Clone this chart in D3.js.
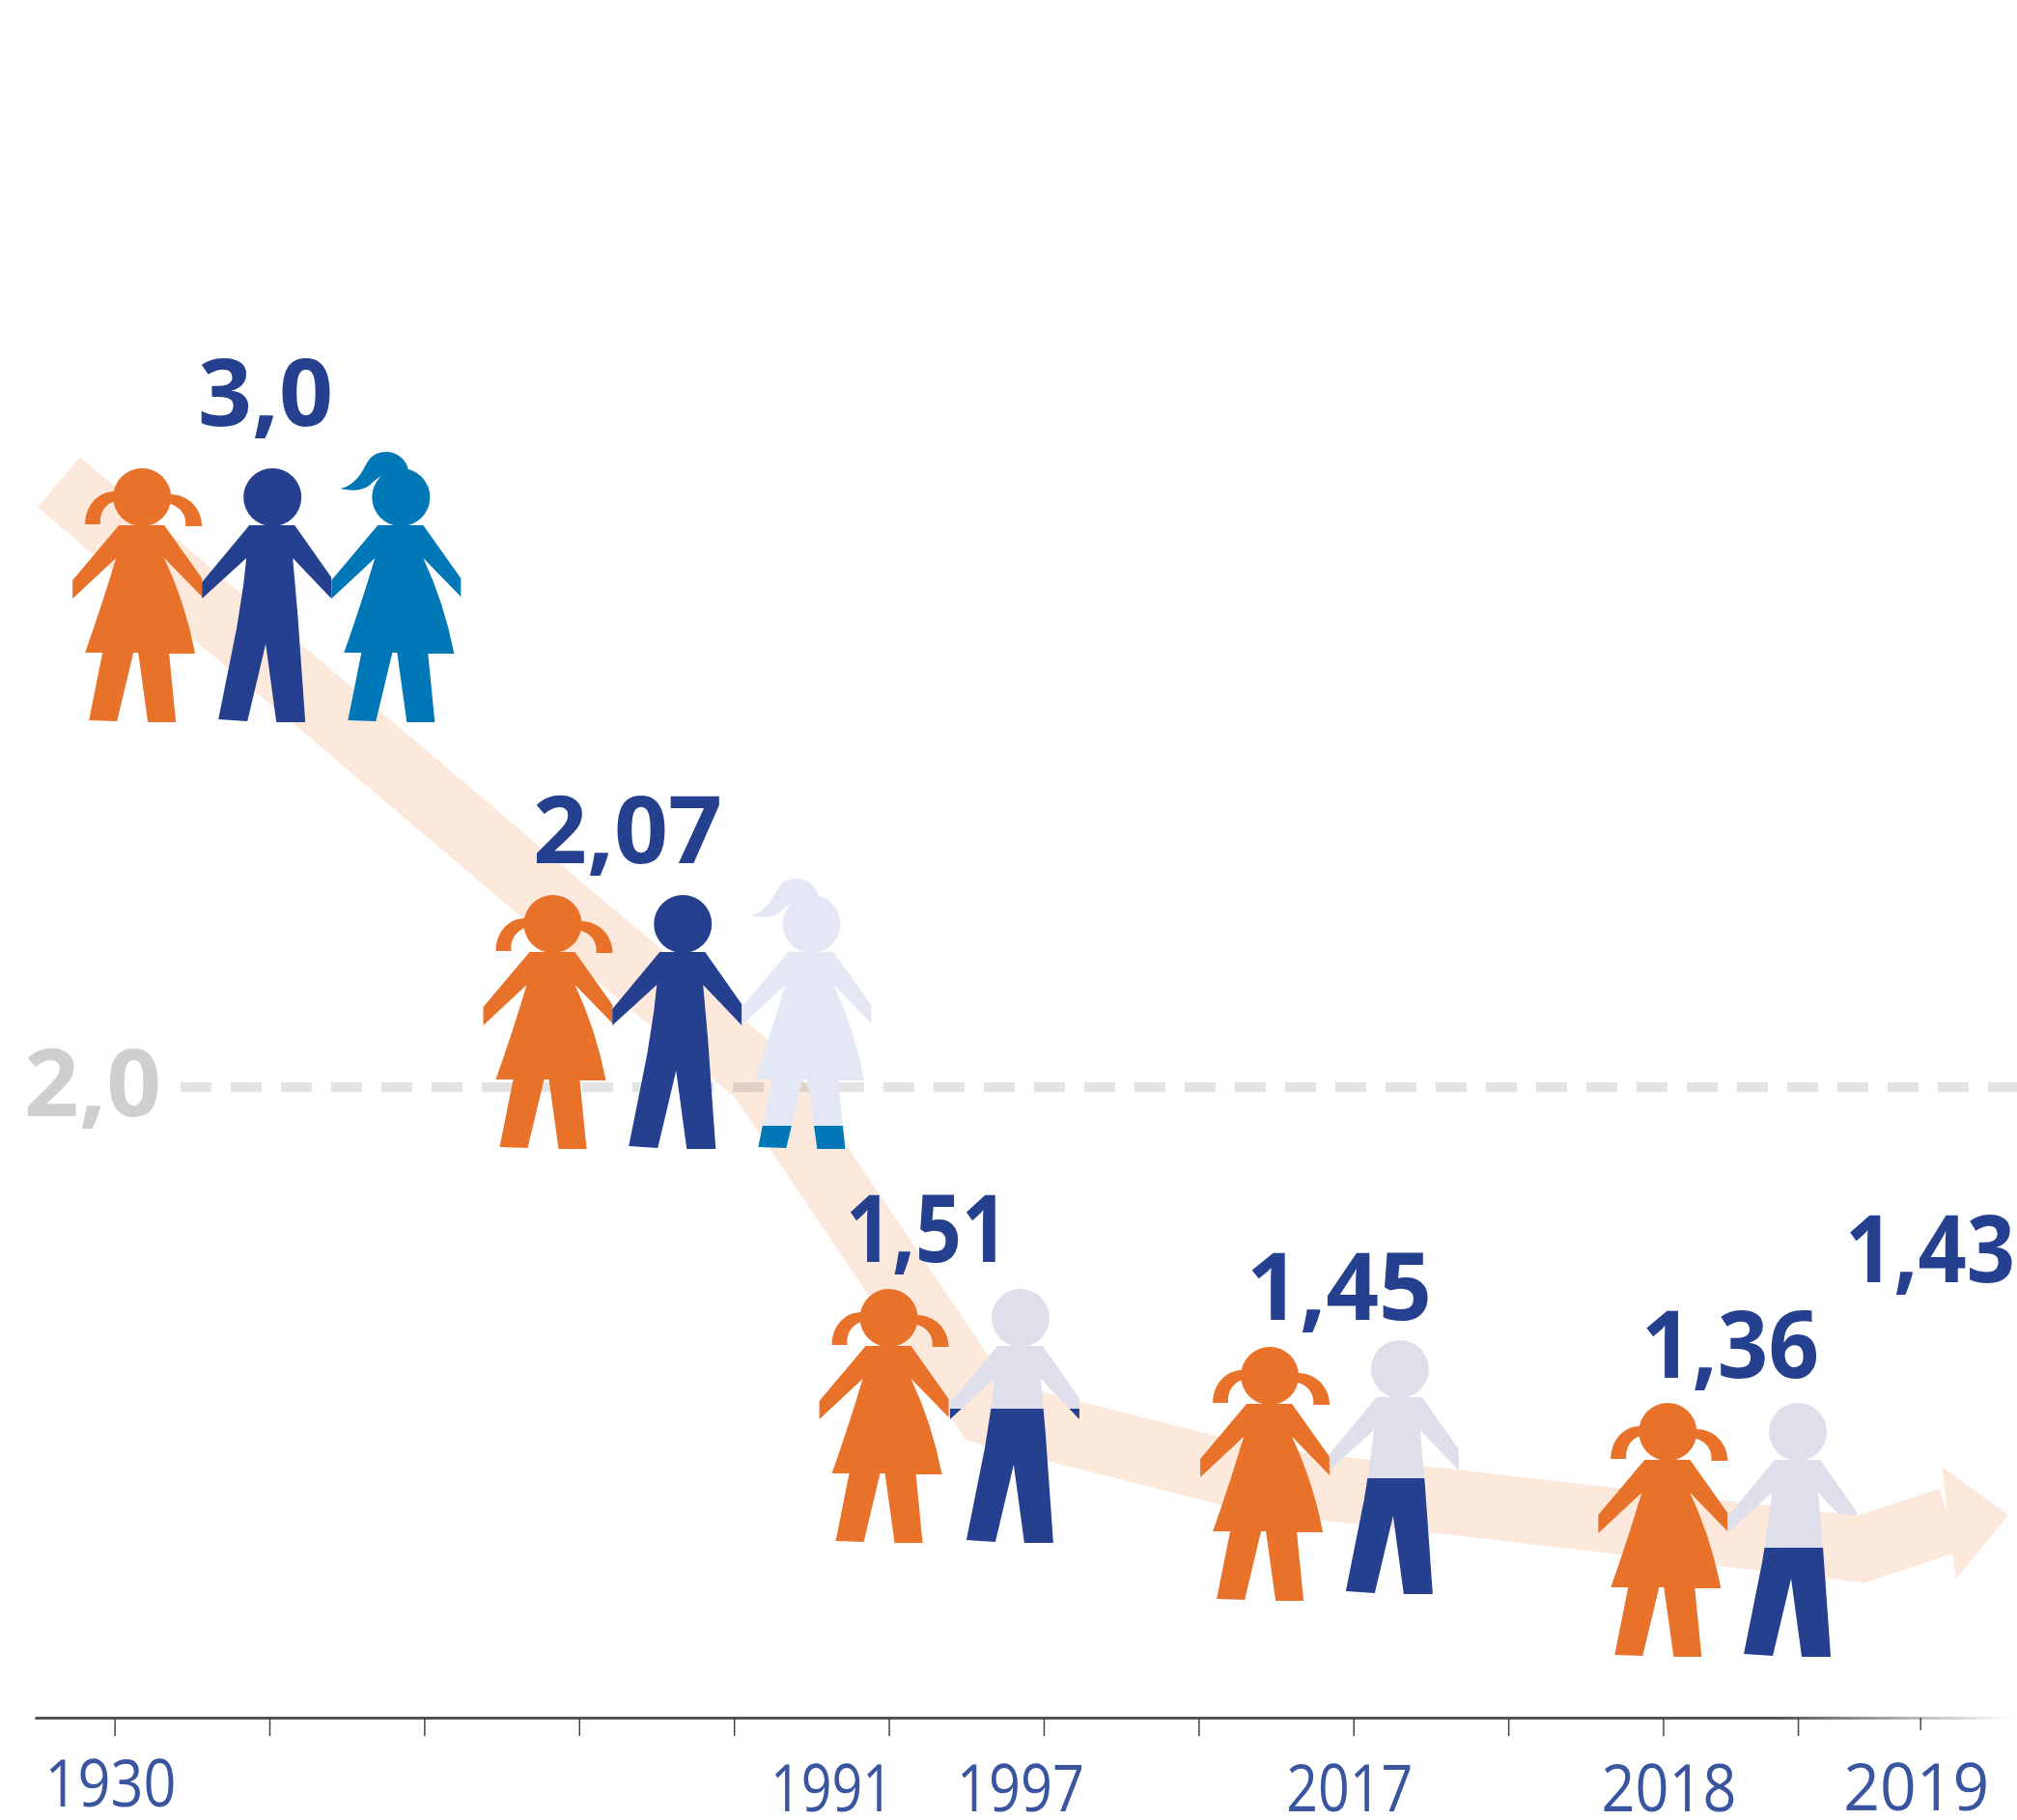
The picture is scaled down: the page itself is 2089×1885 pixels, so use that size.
<!DOCTYPE html>
<html>
<head>
<meta charset="utf-8">
<script src="https://d3js.org/d3.v7.min.js"></script>
<style>
    body { margin: 0; background: #fff; }
    svg { display: block; }
</style>
</head>
<body>
<div class="chart"></div>
<script>
// Values
var valueLabels = ["3,0", "2,07", "1,51", "1,45", "1,36", "1,43"];
var values = [3.0, 2.07, 1.51, 1.45, 1.36, 1.43];
var referenceValue = 2.0;
var referenceLabel = "2,0";

// Axis: 13 unevenly placed ticks, only some of them have a year
var tickSlots = [0, 1, 2, 3, 4, 5, 6, 7, 8, 9, 10, 10.87, 11.66];
var tickLabels = ["1930", "", "", "", "", "1991", "1997", "", "2017", "", "2018", "", "2019"];

// One entry for each person
var personSlots = [0.178, 1.02, 1.85, 2.83, 3.67, 4.5, 5.0, 5.85, 7.46, 8.30, 10.03, 10.87];
var personValues = [3.0, 3.0, 3.0, 2.07, 2.07, 2.07, 1.51, 1.51, 1.45, 1.45, 1.36, 1.36];
var personKinds = ["girl", "boy", "ponytail", "girl", "boy", "ghost", "girl", "boyTips", "girl", "boyShirtA", "girl", "boyShirtB"];

// Wide arrow behind the people
var ribbonSlots = [-0.36, 4.17, 5.63, 7.36, 11.28, 11.85];
var ribbonValues = [2.97, 2.004, 1.346, 1.237, 1.125, 1.172];
var tailSlots = [11.1, 11.28, 11.85];
var tailValues = [1.13, 1.125, 1.172];
var headSlots = [11.80, 12.23, 11.89];
var headValues = [1.257, 1.18, 1.077];

// Layout only, not data
var w = 2089;
var h = 1885;
var axisY = 1779;
var labelSpots = [[275, 441, 140], [650, 894, 196], [960, 1307, 168], [1387, 1367, 192], [1792, 1427, 184], [1999, 1328, 176]];
var yearSpots = { "1930": [-4, 1871, 136], "1991": [-59, 1876, 127], "1997": [-24, 1876, 132], "2017": [-4, 1876, 131], "2018": [6, 1876, 140], "2019": [-4, 1875, 151] };

var orange = "#e9722b";
var navy = "#25408f";
var blue = "#0077b6";
var ghost = "#e4e8f4";
var shirt = "#dfdfec";
var ribbonColor = "#fce9dc";

// The people are not to scale in the picture, so the value scale is piecewise
var yScale = d3.scaleLinear()
    .domain([1.36, 1.45, 1.51, 2.0, 2.07, 3.0])
    .range([1453, 1395, 1335, 1126, 927, 485]);

var xScale = d3.scaleLinear()
    .domain([-0.515, 12.26])
    .range([36, 2085]);

var svg = d3.select(".chart")
    .append("svg")
    .attr("width", w)
    .attr("height", h)
    .style("font-family", "'Open Sans', sans-serif");

var defs = svg.append("defs");

// Axis line fades out on the right
var fade = defs.append("linearGradient")
    .attr("id", "axisFade")
    .attr("gradientUnits", "userSpaceOnUse")
    .attr("x1", 36).attr("x2", 2085).attr("y1", 0).attr("y2", 0);
fade.append("stop").attr("offset", 0.88).attr("stop-color", "#555");
fade.append("stop").attr("offset", 1).attr("stop-color", "#fff");

// Hard colour split for the two-tone people, in person coordinates
function splitFill(id, splitY, top, bottom) {
    var grad = defs.append("linearGradient")
        .attr("id", id)
        .attr("gradientUnits", "userSpaceOnUse")
        .attr("x1", 0).attr("x2", 0).attr("y1", 0).attr("y2", 270);
    grad.append("stop").attr("offset", splitY / 270).attr("stop-color", top);
    grad.append("stop").attr("offset", splitY / 270).attr("stop-color", bottom);
}
splitFill("ghostFill", 239, ghost, blue);
splitFill("tipsFill", 124, shirt, navy);
splitFill("shirtA", 143, shirt, navy);
splitFill("shirtB", 150, shirt, navy);

// Person outlines, origin at top of the head
var headPath = "M-30,30a30,30 0 1,0 60,0a30,30 0 1,0 -60,0Z";
var girlPath = "M-24,59L-72,116L-72,135L-27,93Q-41,140 -59,191L-41,191L-55,261L-26,262L-9,191L-4,191L6,263L35,263L28,192L55,192Q45,140 23,93L62,133L62,114L23,59Z";
var boyPath = "M-24,59L-73,118L-73,135L-27,93L-30,120Q-33,140 -37,165L-56,260L-26,262L-7,182L4,263L34,263L26,150L21,93L61,135L61,113L23,59Z";
var pigtailsPath = "M-28,24C-47,24 -59,40 -59,58L-43,58C-44,50 -41,38 -28,34Z" +
    "M29,27C48,27 62,42 62,60L45,60C46,52 43,41 29,37Z";
var ponytailPath = "M8,3C6,-10 -5,-17 -15,-17C-32,-17 -35,-5 -40,3C-46,13 -55,20 -63,21C-50,24 -40,23 -33,18C-28,13 -22,8 -15,6Z";

var kinds = {
    girl: { body: girlPath, hair: pigtailsPath, fill: orange, hairFill: orange },
    boy: { body: boyPath, fill: navy },
    ponytail: { body: girlPath, hair: ponytailPath, fill: blue, hairFill: blue },
    ghost: { body: girlPath, hair: ponytailPath, fill: "url(#ghostFill)", hairFill: ghost, headFill: ghost },
    boyTips: { body: boyPath, fill: "url(#tipsFill)", headFill: shirt },
    boyShirtA: { body: boyPath, fill: "url(#shirtA)", headFill: shirt },
    boyShirtB: { body: boyPath, fill: "url(#shirtB)", headFill: shirt }
};

// Ribbon
var ribbonLine = d3.line()
    .x(function(d) { return xScale(d[0]); })
    .y(function(d) { return yScale(d[1]); });

svg.append("path")
    .attr("d", ribbonLine(d3.zip(ribbonSlots, ribbonValues)))
    .attr("fill", "none")
    .attr("stroke", ribbonColor)
    .attr("stroke-width", 68)
    .attr("stroke-linejoin", "miter");

// Dashed line for the 2,0 level, darkens the ribbon where they cross
svg.append("line")
    .attr("x1", 187)
    .attr("x2", w)
    .attr("y1", yScale(referenceValue))
    .attr("y2", yScale(referenceValue))
    .attr("stroke", "#e3e3e3")
    .attr("stroke-width", 10)
    .attr("stroke-dasharray", "32 20")
    .style("mix-blend-mode", "multiply");

svg.append("text")
    .attr("x", 96)
    .attr("y", 1156)
    .attr("text-anchor", "middle")
    .attr("fill", "#cfcfcf")
    .attr("textLength", 142)
    .attr("lengthAdjust", "spacingAndGlyphs")
    .style("font-size", "96px")
    .style("font-weight", 700)
    .text(referenceLabel);

// People
var people = svg.selectAll(".person")
    .data(d3.zip(personSlots, personValues, personKinds))
    .enter().append("g")
    .attr("class", "person")
    .attr("transform", function(d, i) {
        // the boy in the 1,45 pair stands a little higher than the girl
        var lift = i === 9 ? -7 : 0;
        return "translate(" + xScale(d[0]) + "," + (yScale(d[1]) + lift) + ")";
    });

people.each(function(d) {
    var kind = kinds[d[2]];
    var g = d3.select(this);
    if (kind.hair) {
        g.append("path").attr("d", kind.hair).attr("fill", kind.hairFill);
    }
    g.append("path").attr("d", headPath).attr("fill", kind.headFill || kind.fill);
    g.append("path").attr("d", kind.body).attr("fill", kind.fill);
});

// The arrow end lies on top of the last boy's hand
svg.append("path")
    .attr("d", ribbonLine(d3.zip(tailSlots, tailValues)))
    .attr("fill", "none")
    .attr("stroke", ribbonColor)
    .attr("stroke-width", 68);

svg.append("path")
    .attr("d", ribbonLine(d3.zip(headSlots, headValues)) + "Z")
    .attr("fill", ribbonColor);

// Value labels
svg.selectAll(".value-label")
    .data(valueLabels)
    .enter().append("text")
    .attr("class", "value-label")
    .attr("x", function(d, i) { return labelSpots[i][0]; })
    .attr("y", function(d, i) { return labelSpots[i][1]; })
    .attr("text-anchor", "middle")
    .attr("textLength", function(d, i) { return labelSpots[i][2]; })
    .attr("lengthAdjust", "spacingAndGlyphs")
    .attr("fill", navy)
    .style("font-size", "96px")
    .style("font-weight", 700)
    .text(function(d) { return d; });

// Axis
var xAxis = d3.axisBottom(xScale)
    .tickValues(tickSlots)
    .tickSize(19)
    .tickSizeOuter(0)
    .tickFormat("");

var axis = svg.append("g")
    .attr("class", "x-axis")
    .attr("transform", "translate(0," + axisY + ")")
    .call(xAxis);

axis.select(".domain")
    .attr("stroke", "url(#axisFade)")
    .attr("stroke-width", 3);

axis.selectAll(".tick line")
    .attr("stroke", "#444")
    .attr("stroke-width", 1.5)
    .attr("y2", function(d, i) { return i === tickSlots.length - 1 ? 13 : 19; });

// Year labels sit off their ticks in the picture
svg.selectAll(".year")
    .data(d3.zip(tickSlots, tickLabels).filter(function(d) { return d[1] !== ""; }))
    .enter().append("text")
    .attr("class", "year")
    .attr("x", function(d) { return xScale(d[0]) + yearSpots[d[1]][0]; })
    .attr("y", function(d) { return yearSpots[d[1]][1]; })
    .attr("text-anchor", "middle")
    .attr("textLength", function(d) { return yearSpots[d[1]][2]; })
    .attr("lengthAdjust", "spacingAndGlyphs")
    .attr("fill", "#3a55a0")
    .style("font-size", "67px")
    .style("font-weight", 400)
    .text(function(d) { return d[1]; });
</script>
</body>
</html>
